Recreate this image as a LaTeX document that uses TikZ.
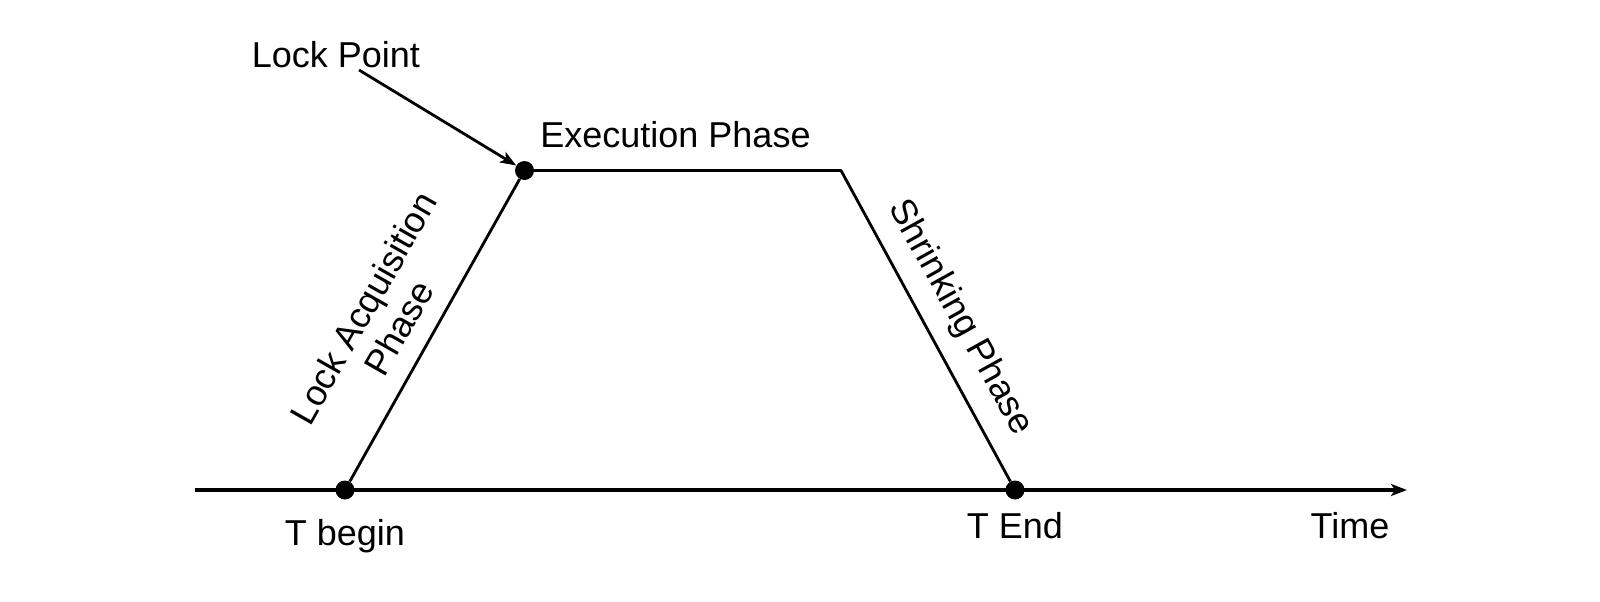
\documentclass[tikz,border=0pt]{standalone}
\usepackage{fontspec}
\setmainfont{Liberation Sans}
\usetikzlibrary{arrows.meta}
\begin{document}
\begin{tikzpicture}[x=1pt,y=-1pt,
  dot/.style={circle,fill=black,inner sep=0pt,minimum size=19pt},
  lbl/.style={inner sep=0pt,font=\fontsize{36}{41}\selectfont,align=center},
  ln/.style={line width=2.8pt},
  axl/.style={line width=3.2pt},
  tip/.style={-{Stealth[length=16pt,width=12pt,inset=4pt]}}]
\useasboundingbox (0,0) rectangle (1600,602);
\coordinate (ax0) at (195,490);
\coordinate (ax1) at (1407,490);
\coordinate (tr) at (841,170.5);
\coordinate (lpstart) at (359,70);
\draw[axl,tip] (ax0) -- (ax1);
\node[dot] (tb) at (345,490) {};
\node[dot] (te) at (1015,490) {};
\node[dot] (tl) at (524.5,170.5) {};
\draw[ln,line join=round] (tb) -- (tl) -- (tr) -- (te);
\draw[ln,tip] (lpstart) -- (tl);
\node[lbl] (lp) at (336,55) {Lock Point};
\node[lbl] (ex) at (675.5,134.5) {Execution Phase};
\node[lbl] (tbl) at (345,536) {T begin};
\node[lbl] (tel) at (1015,525.5) {T End};
\node[lbl] (time) at (1350,525.5) {Time};
\node[lbl,rotate=60.4] (la) at (381,318) {Lock Acquisition\\Phase};
\node[lbl,rotate=-61] (sp) at (960,318) {Shrinking Phase};
\end{tikzpicture}
\end{document}
